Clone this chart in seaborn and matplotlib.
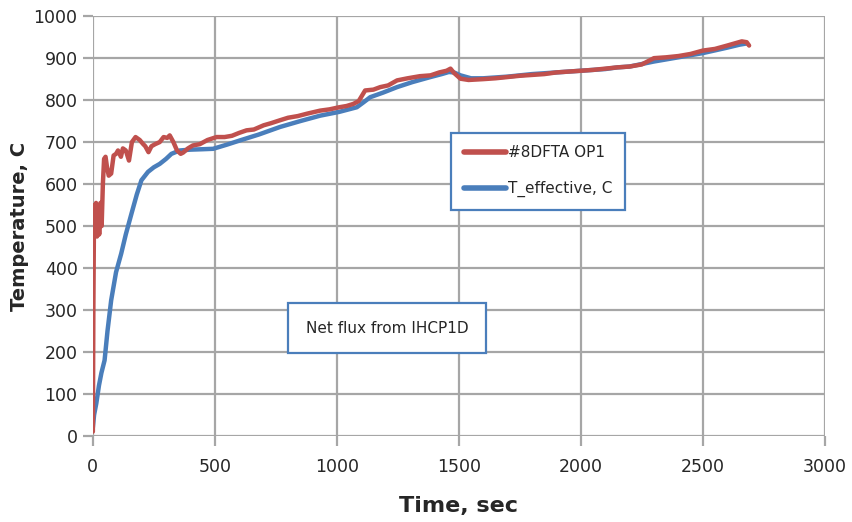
import matplotlib
matplotlib.use("Agg")
import matplotlib.pyplot as plt
import seaborn as sns
import pandas as pd

# ---- data ----
red_time = [0, 2, 5, 9, 13, 17, 21, 26, 31, 36, 41, 46, 52, 58, 65, 75, 85, 95, 103, 115, 123, 135, 148, 160, 175, 192, 205, 215, 228, 240, 255, 274, 290, 305, 315, 330, 345, 360, 370, 390, 410, 438, 470, 507, 540, 570, 600, 630, 660, 700, 730, 767, 800, 840, 880, 932, 970, 1010, 1040, 1068, 1090, 1116, 1150, 1178, 1210, 1247, 1290, 1340, 1384, 1420, 1450, 1466, 1480, 1507, 1540, 1600, 1650, 1700, 1750, 1800, 1850, 1900, 1950, 2000, 2050, 2100, 2150, 2200, 2250, 2300, 2350, 2400, 2450, 2500, 2550, 2600, 2630, 2660, 2680, 2690]
red_temp = [10, 300, 550, 490, 555, 475, 545, 480, 555, 500, 600, 660, 665, 640, 620, 625, 668, 672, 680, 665, 685, 680, 656, 700, 712, 705, 696, 690, 676, 690, 695, 700, 712, 710, 716, 700, 680, 672, 675, 685, 692, 695, 705, 712, 712, 715, 722, 728, 730, 740, 745, 752, 758, 762, 768, 775, 778, 783, 786, 791, 798, 823, 825, 831, 835, 847, 852, 857, 859, 866, 870, 875, 865, 851, 848, 850, 852, 855, 858, 860, 862, 866, 868, 870, 872, 875, 878, 880, 885, 900, 902, 905, 910, 918, 922, 930, 935, 940, 938, 930]
blue_time = [0, 5, 14, 25, 35, 48, 60, 75, 95, 116, 135, 158, 180, 199, 226, 250, 274, 300, 322, 356, 400, 450, 493, 550, 603, 680, 767, 850, 932, 1010, 1082, 1110, 1137, 1190, 1247, 1310, 1384, 1430, 1459, 1480, 1507, 1550, 1600, 1700, 1800, 1900, 2000, 2100, 2150, 2200, 2300, 2400, 2500, 2600, 2650, 2680]
blue_temp = [20, 50, 77, 120, 150, 180, 250, 323, 390, 434, 480, 529, 575, 609, 629, 640, 648, 660, 672, 680, 682, 683, 684, 694, 704, 718, 736, 750, 763, 772, 783, 795, 807, 818, 831, 843, 855, 862, 867, 866, 859, 852, 852, 856, 862, 866, 870, 874, 878, 880, 892, 902, 912, 925, 932, 935]

red_name = "#8DFTA OP1"
blue_name = "T_effective, C"
note_text = "Net flux from IHCP1D"
x_ticks = [0, 500, 1000, 1500, 2000, 2500, 3000]
y_ticks = [0, 100, 200, 300, 400, 500, 600, 700, 800, 900, 1000]

sns.set_theme(style="white")
plt.rcParams['font.family'] = ['DejaVu Sans']

fig = plt.figure(figsize=(8.52, 5.22), dpi=100)
ax = fig.add_axes([0.109, 0.165, 0.859, 0.804])

red_df = pd.DataFrame({"Time": red_time, "Temp": red_temp})
blue_df = pd.DataFrame({"Time": blue_time, "Temp": blue_temp})

sns.lineplot(data=blue_df, x="Time", y="Temp", ax=ax, color="#4a7ebb",
             linewidth=3.2, label=blue_name, sort=False, zorder=3)
sns.lineplot(data=red_df, x="Time", y="Temp", ax=ax, color="#c0504d",
             linewidth=3.2, label=red_name, sort=False, zorder=4)

ax.set_xlim(0, 3000)
ax.set_ylim(0, 1000)
ax.set_xticks(x_ticks)
ax.set_yticks(y_ticks)
ax.grid(True, color="#a6a6a6", linewidth=1.6)
ax.set_axisbelow(True)
for s in ax.spines.values():
    s.set_visible(False)
ax.tick_params(axis="both", which="both", length=7, width=1.6, color="#a6a6a6",
               labelsize=12.5, labelcolor="#262626", direction="out", pad=4)
ax.tick_params(axis="x", pad=9)
ax.tick_params(left=True, bottom=True)

ax.set_xlabel("Time, sec", fontsize=16, fontweight="bold", color="#262626", labelpad=14)
ax.set_ylabel("Temperature, C", fontsize=14, fontweight="bold", color="#262626", labelpad=3)

handles, labels = ax.get_legend_handles_labels()
order = [labels.index(red_name), labels.index(blue_name)]
leg = ax.legend([handles[i] for i in order], [labels[i] for i in order],
                loc="upper left", bbox_to_anchor=(0.490, 0.721), frameon=True,
                fancybox=False, edgecolor="#4a7ebb", framealpha=1,
                fontsize=11, handlelength=2.8, handletextpad=0.1,
                labelspacing=1.35, borderpad=0.8, borderaxespad=0)
leg.get_frame().set_linewidth(1.6)
for h in leg.get_lines():
    h.set_linewidth(4)

ax.text(0.402, 0.256, note_text, transform=ax.transAxes, fontsize=11,
        color="#262626", va="center", ha="center",
        bbox=dict(boxstyle="square,pad=1.15", facecolor="white",
                  edgecolor="#4a7ebb", linewidth=1.6))

fig.savefig("out.png", dpi=100)
